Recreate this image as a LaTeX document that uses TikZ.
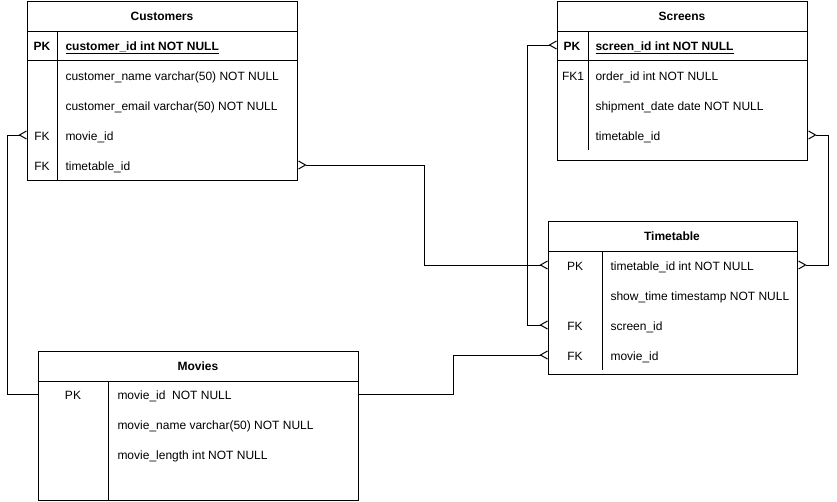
\documentclass[tikz,border=0pt]{standalone}
\usepackage{fontspec}
\setmainfont{Liberation Sans}
\usepackage{tikz}
\usetikzlibrary{arrows.meta,positioning}
\tikzset{
    tbl/.style={rectangle, draw=black, line width=1pt, anchor=north west, inner sep=0pt},
    hdr/.style={font=\fontsize{12}{14}\selectfont\bfseries, inner sep=0pt},
    key/.style={inner sep=0pt, text height=13pt, text depth=3pt},
    fld/.style={anchor=west, inner sep=0pt, text height=13pt, text depth=3pt},
    bkey/.style={key, font=\fontsize{12}{14}\selectfont\bfseries},
    bfld/.style={fld, font=\fontsize{12}{14}\selectfont\bfseries},
    rel/.style={line width=1pt},
    crow/.tip={Straight Barb[reversed, length=7pt, width=8pt]}
}

\begin{document}
\begin{tikzpicture}[x=1pt, y=-1pt, font=\fontsize{12}{14}\selectfont, line width=1pt]
    \useasboundingbox (0,0) rectangle (837,501);

    % Customers
    \node[tbl, minimum width=270pt, minimum height=179pt] (cust) at (27,1) {};
    \draw (27,31) -- (297,31);
    \draw (27,60) -- (297,60);
    \draw (57,31) -- (57,180);
    \node[hdr] (custh) at (162,16) {Customers};
    \node[bkey] (cpk) at (42,45) {PK};
    \node[bfld] (cid) at (65,45) {\underline{customer\_id int NOT NULL}};
    \node[fld] (cname) at (65,75) {customer\_name varchar(50) NOT NULL};
    \node[fld] (cmail) at (65,105) {customer\_email varchar(50) NOT NULL};
    \node[key] (cfk1) at (42,135) {FK};
    \node[fld] (cmov) at (65,135) {movie\_id};
    \node[key] (cfk2) at (42,165) {FK};
    \node[fld] (ctt) at (65,165) {timetable\_id};

    % Screens
    \node[tbl, minimum width=250pt, minimum height=159pt] (scr) at (557,1) {};
    \draw (557,31) -- (807,31);
    \draw (557,60) -- (807,60);
    \draw (588,31) -- (588,150);
    \node[hdr] (scrh) at (682,16) {Screens};
    \node[bkey] (spk) at (572,45) {PK};
    \node[bfld] (sid) at (595,45) {\underline{screen\_id int NOT NULL}};
    \node[key] (sfk) at (573,75) {FK1};
    \node[fld] (sord) at (595,75) {order\_id int NOT NULL};
    \node[fld] (sdate) at (595,105) {shipment\_date date NOT NULL};
    \node[fld] (stt) at (595,135) {timetable\_id};

    % Timetable
    \node[tbl, minimum width=249pt, minimum height=153pt] (tt) at (548,221) {};
    \draw (548,251) -- (797,251);
    \draw (602,251) -- (602,370);
    \node[hdr] (tth) at (672,236) {Timetable};
    \node[key] (tpk) at (575,265) {PK};
    \node[fld] (tid) at (610,265) {timetable\_id int NOT NULL};
    \node[fld] (tshow) at (610,295) {show\_time timestamp NOT NULL};
    \node[key] (tfk1) at (575,325) {FK};
    \node[fld] (tscr) at (610,325) {screen\_id};
    \node[key] (tfk2) at (575,355) {FK};
    \node[fld] (tmov) at (610,355) {movie\_id};

    % Movies
    \node[tbl, minimum width=320pt, minimum height=149pt] (mov) at (38,351) {};
    \draw (38,381) -- (358,381);
    \draw (108,381) -- (108,500);
    \node[hdr] (movh) at (198,366) {Movies};
    \node[key] (mpk) at (73,394) {PK};
    \node[fld] (mid) at (117,394) {movie\_id\ \ NOT NULL};
    \node[fld] (mname) at (117,424) {movie\_name varchar(50) NOT NULL};
    \node[fld] (mlen) at (117,454) {movie\_length int NOT NULL};

    % relations
    \draw[rel, {crow}-] (cust.west |- cmov) -- ++(-20,0) |- (mov.west |- mid);
    \draw[rel, {crow}-{crow}] (cust.east |- ctt) -- ++(126,0) |- (tt.west |- tid);
    \draw[rel, {crow}-{crow}] (scr.west |- sid) -- ++(-30,0) |- (tt.west |- tscr);
    \draw[rel, {crow}-{crow}] (scr.east |- stt) -- ++(20,0) |- (tt.east |- tid);
    \draw[rel, -{crow}] (mov.east |- mid) -- ++(94,0) |- (tt.west |- tmov);
\end{tikzpicture}
\end{document}
